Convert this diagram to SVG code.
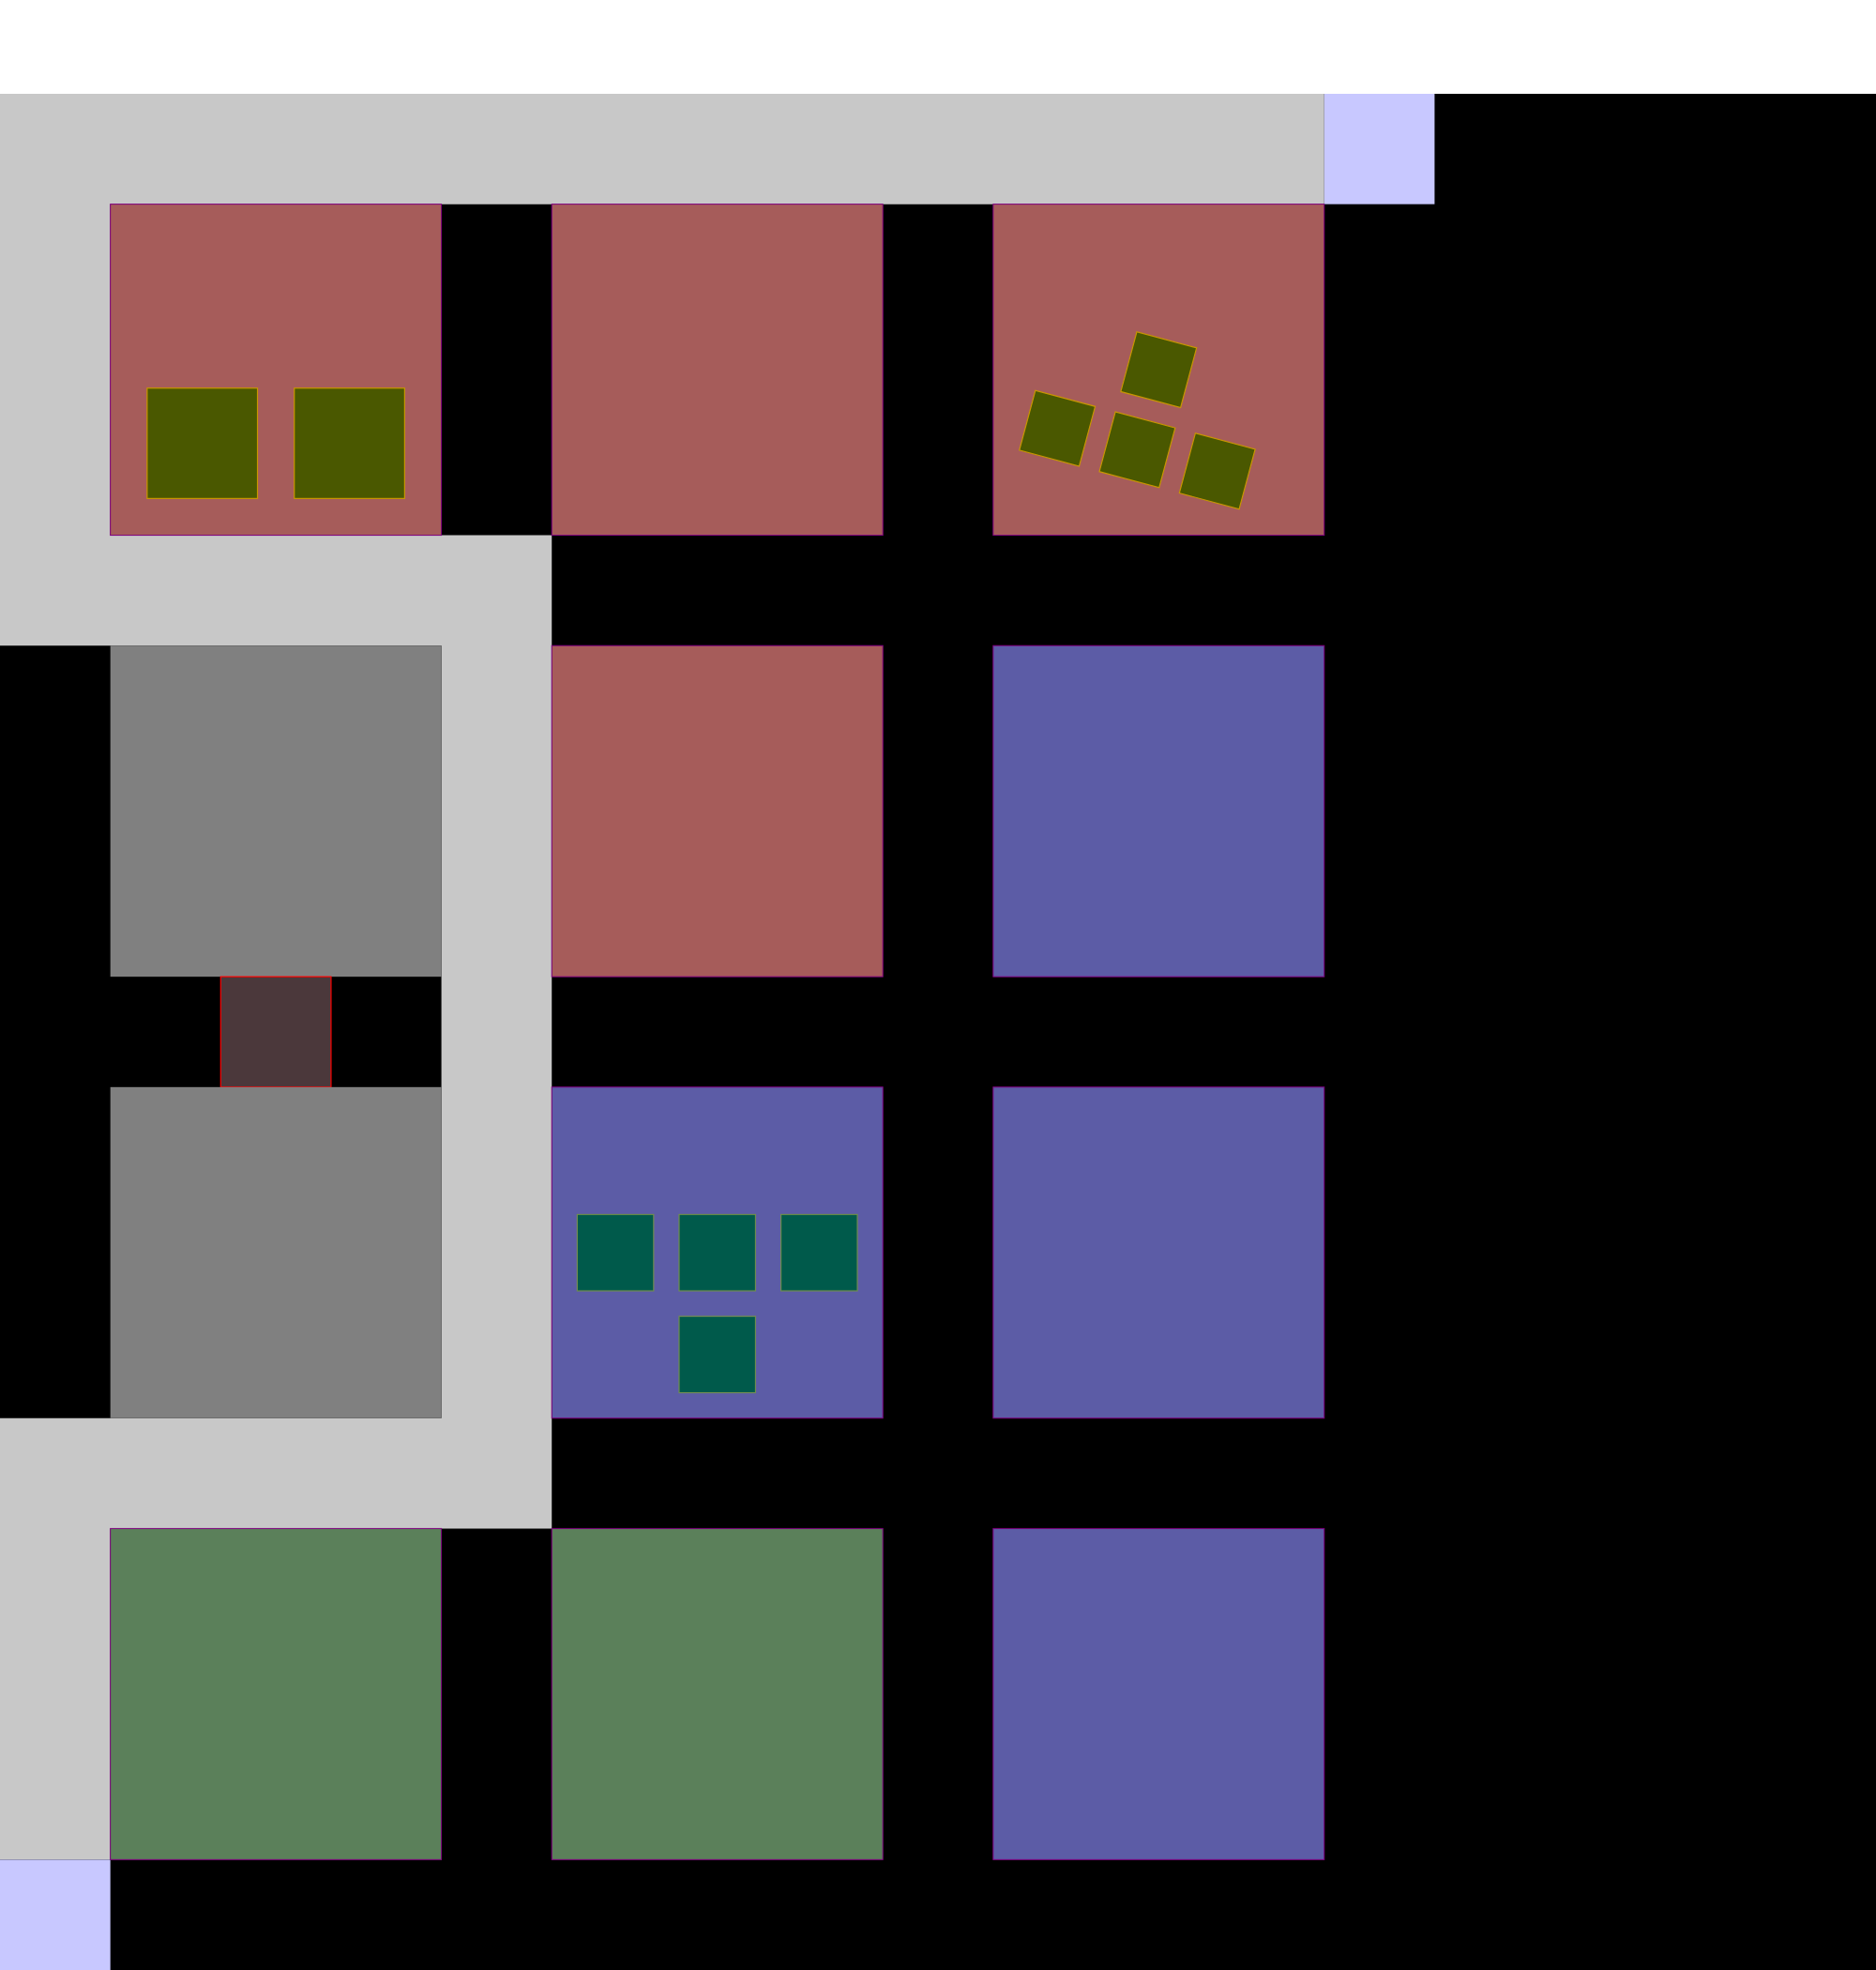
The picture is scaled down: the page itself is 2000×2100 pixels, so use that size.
<svg xmlns="http://www.w3.org/2000/svg" width="2000" height="2100" viewBox="0 0 2000 2100">
<defs>
<style>
.cell{stroke:#800080;stroke-width:1}
.red{fill:#a65c5a}
.blue{fill:#5c5ca6}
.green{fill:#5b805a}
.gray{fill:#808080}
.path{fill:#c8c8c8}
.end{fill:#c8c8ff}
.olive{fill:#4a5800;stroke:#c89600;stroke-width:1.2}
.teal{fill:#005a4b;stroke:#708c50;stroke-width:1.2}
.gate{fill:#4b383b;stroke:#ff0000;stroke-width:1.2}
</style>
</defs>
<rect x="0" y="0" width="2000" height="100" fill="#ffffff"/>
<rect x="0" y="100" width="2000" height="2000" fill="#000000"/>
<g id="path">
<polygon class="path" points="0,100 1411.76,100 1411.76,217.65 117.65,217.65 117.65,570.59 588.24,570.59 588.24,1629.41 117.65,1629.41 117.65,1982.35 0,1982.35 0,1511.76 470.59,1511.76 470.59,688.24 0,688.24"/>
<rect id="end-top" class="end" x="1411.76" y="100" width="117.65" height="117.65"/>
<rect id="end-bottom" class="end" x="0" y="1982.35" width="117.65" height="117.65"/>
</g>
<g id="cell-0-0"><rect class="cell red" x="117.65" y="217.65" width="352.94" height="352.94"/>
<rect class="olive" x="156.86" y="413.73" width="117.65" height="117.65"/>
<rect class="olive" x="313.73" y="413.73" width="117.65" height="117.65"/></g>
<g id="cell-1-0"><rect class="cell red" x="588.24" y="217.65" width="352.94" height="352.94"/></g>
<g id="cell-2-0"><rect class="cell red" x="1058.82" y="217.65" width="352.94" height="352.94"/>
<g transform="translate(1235.29,394.12) rotate(15)">
<rect class="olive" x="-33" y="-33" width="66" height="66"/>
<rect class="olive" x="-121.3" y="55.3" width="66" height="66"/>
<rect class="olive" x="-33" y="55.3" width="66" height="66"/>
<rect class="olive" x="55.3" y="55.3" width="66" height="66"/>
</g></g>
<g id="cell-0-1"><rect class="gray" x="117.65" y="688.24" width="352.94" height="352.94"/></g>
<g id="gate"><rect class="gate" x="235.29" y="1041.18" width="117.65" height="117.65"/></g>
<g id="cell-1-1"><rect class="cell red" x="588.24" y="688.24" width="352.94" height="352.94"/></g>
<g id="cell-2-1"><rect class="cell blue" x="1058.82" y="688.24" width="352.94" height="352.94"/></g>
<g id="cell-0-2"><rect class="gray" x="117.65" y="1158.82" width="352.94" height="352.94"/></g>
<g id="cell-1-2"><rect class="cell blue" x="588.24" y="1158.82" width="352.94" height="352.94"/>
<rect class="teal" x="615.39" y="1294.57" width="81.45" height="81.45"/>
<rect class="teal" x="723.99" y="1294.57" width="81.45" height="81.45"/>
<rect class="teal" x="832.59" y="1294.57" width="81.45" height="81.45"/>
<rect class="teal" x="723.99" y="1403.17" width="81.45" height="81.45"/></g>
<g id="cell-2-2"><rect class="cell blue" x="1058.82" y="1158.82" width="352.94" height="352.94"/></g>
<g id="cell-0-3"><rect class="cell green" x="117.65" y="1629.41" width="352.94" height="352.94"/></g>
<g id="cell-1-3"><rect class="cell green" x="588.24" y="1629.41" width="352.94" height="352.94"/></g>
<g id="cell-2-3"><rect class="cell blue" x="1058.82" y="1629.41" width="352.94" height="352.94"/></g>
</svg>
